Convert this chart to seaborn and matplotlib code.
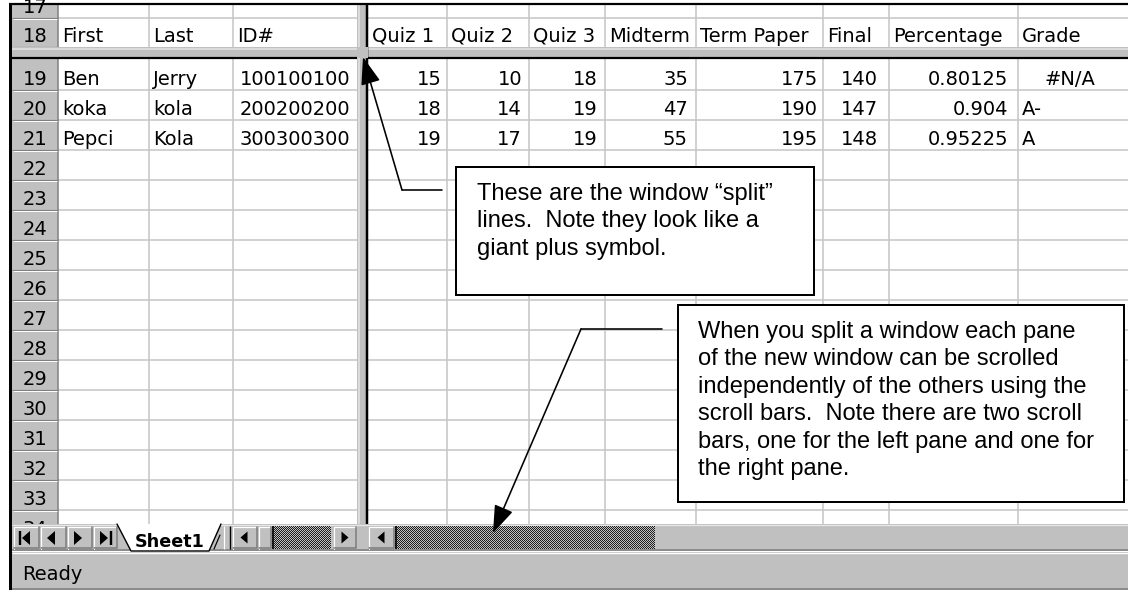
import numpy as np
import pandas as pd
import matplotlib
matplotlib.use("Agg")
import matplotlib.pyplot as plt
from matplotlib.patches import Rectangle, Polygon
from matplotlib.colors import ListedColormap
import seaborn as sns

######### Sheet contents #########
row_numbers = list(range(17, 35))
headers = ["First", "Last", "ID#", "Quiz 1", "Quiz 2", "Quiz 3",
           "Midterm", "Term Paper", "Final", "Percentage", "Grade"]
first_names = ["Ben", "koka", "Pepci"]
last_names = ["Jerry", "kola", "Kola"]
student_ids = [100100100, 200200200, 300300300]
quiz1 = [15, 18, 19]
quiz2 = [10, 14, 17]
quiz3 = [18, 19, 19]
midterm = [35, 47, 55]
term_paper = [175, 190, 195]
final = [140, 147, 148]
percentage = [0.80125, 0.904, 0.95225]
grade = ["#N/A", "A-", "A"]

note_split = ["These are the window \u201csplit\u201d",
              "lines.  Note they look like a",
              "giant plus symbol."]
note_scroll = ["When you split a window each pane",
               "of the new window can be scrolled",
               "independently of the others using the",
               "scroll bars.  Note there are two scroll",
               "bars, one for the left pane and one for",
               "the right pane."]
sheet_name = "Sheet1"
status_text = "Ready"

grades = pd.DataFrame({
    "First": first_names, "Last": last_names, "ID#": student_ids,
    "Quiz 1": quiz1, "Quiz 2": quiz2, "Quiz 3": quiz3, "Midterm": midterm,
    "Term Paper": term_paper, "Final": final, "Percentage": percentage,
    "Grade": grade,
})

######### Layout (pixels) #########
W, H = 1128, 590
PT = 0.72                      # points per pixel at dpi 100
GRAY, DARK, GRID = "#c0c0c0", "#808080", "#c8c8c8"
cols = [(58, 149), (149, 233), (233, 357),
        (368, 447), (447, 529), (529, 605), (605, 696),
        (696, 823), (823, 889), (889, 1018), (1018, 1140)]
right_pad = [0, 0, 7, 5, 7, 7, 8, 5, 11, 10, 0]
text_cols = ["First", "Last", "Grade"]
body_bottom = 524


def row_span(r):
    if r == 17:
        return -12, 18
    if r == 18:
        return 18, 47
    top = 60 + 30 * (r - 19)
    return top, top + 30


sns.set_theme(style="white")
plt.rcParams["font.family"] = ["DejaVu Sans"]

fig = plt.figure(figsize=(W / 100, H / 100), dpi=100)
ax = fig.add_axes([0, 0, 1, 1])
ax.set_facecolor("white")

cell_font = dict(fontsize=14, color="black", va="baseline", zorder=5)

# grid of cells
for r in row_numbers:
    top, bot = row_span(r)
    if r != 18:
        ax.hlines(bot, 58, 357, color=GRID, lw=1.6 * PT, zorder=1)
        ax.hlines(bot, 368, W, color=GRID, lw=1.6 * PT, zorder=1)
for x0, x1 in cols[1:]:
    if x0 not in (357, 368):
        ax.vlines(x0, 5, body_bottom, color=GRID, lw=1.6 * PT, zorder=1)

# row header column
ax.add_patch(Rectangle((12, 5), 46, body_bottom - 5, fc=GRAY, ec="none", zorder=2))
ax.vlines(58, 5, body_bottom, color=DARK, lw=1.5 * PT, zorder=3)
clip = Rectangle((12, 5), 46, body_bottom - 5, transform=ax.transData, fc="none", ec="none")
for r in row_numbers:
    top, bot = row_span(r)
    ax.hlines(bot, 12, 58, color=DARK, lw=1.2 * PT, zorder=3)
    ax.hlines(bot + 1.2, 13, 57, color="white", lw=1.0 * PT, zorder=3)
    t = ax.text(35, bot - 5, str(r), ha="center", **cell_font)
    t.set_clip_path(clip)

# split bars
ax.add_patch(Rectangle((12, 47), W - 12, 12, fc=GRAY, ec="none", zorder=4))
ax.hlines(48.5, 12, W, color="#e4e4e4", lw=1.5 * PT, zorder=4)
ax.hlines(58, 12, W, color="black", lw=2.2 * PT, zorder=4)
ax.add_patch(Rectangle((357, 5), 11, 546, fc=GRAY, ec="none", zorder=4))
ax.vlines(359, 5, 551, color="#e4e4e4", lw=1.5 * PT, zorder=4)
ax.vlines(366.5, 5, 551, color="black", lw=2.5 * PT, zorder=4)
ax.add_patch(Rectangle((357, 47), 11, 11, fc=GRAY, ec="none", zorder=4.5))

# header row
for (x0, x1), h in zip(cols, headers):
    ax.text(x0 + 4, 42, h, ha="left", **cell_font)

# data rows
for i, rec in grades.iterrows():
    top, bot = row_span(19 + i)
    for j, h in enumerate(headers):
        x0, x1 = cols[j]
        val = rec[h]
        if val == "#N/A":
            ax.text(1070, bot - 5, val, ha="center", **cell_font)
        elif h in text_cols:
            ax.text(x0 + 4, bot - 5, str(val), ha="left", **cell_font)
        else:
            ax.text(x1 - right_pad[j], bot - 5, str(val), ha="right", **cell_font)

# call-out boxes
note_font = dict(fontsize=17, family="Liberation Sans", color="black",
                 va="baseline", ha="left", zorder=8)
ax.add_patch(Rectangle((456, 167), 358, 128, fc="white", ec="black", lw=2 * PT, zorder=7))
for k, line in enumerate(note_split):
    ax.text(477, 200 + 27.5 * k, line, **note_font)
ax.add_patch(Rectangle((678, 305), 446, 197, fc="white", ec="black", lw=2 * PT, zorder=7))
for k, line in enumerate(note_scroll):
    ax.text(698, 338 + 27.4 * k, line, **note_font)

# sheet tab bar
ax.add_patch(Rectangle((12, body_bottom), W - 12, 27, fc=GRAY, ec="none", zorder=6))
ax.hlines(body_bottom + 0.5, 12, W, color="#e8e8e8", lw=1.2 * PT, zorder=6)
ax.hlines(550, 12, W, color=DARK, lw=1.6 * PT, zorder=6)


def button(x0, x1, y0=526, y1=549):
    ax.add_patch(Rectangle((x0, y0), x1 - x0, y1 - y0, fc=GRAY, ec="none", zorder=6.2))
    ax.plot([x0 + 1, x0 + 1, x1 - 1], [y1, y0 + 1, y0 + 1], color="white", lw=1.2 * PT, zorder=6.3)
    ax.plot([x0 + 1, x1 - 1, x1 - 1], [y1 - 1, y1 - 1, y0 + 1], color=DARK, lw=1.6 * PT, zorder=6.3)


def triangle(cx, cy, direction, half=7, width=8):
    if direction == "left":
        pts = [(cx + width / 2, cy - half), (cx + width / 2, cy + half), (cx - width / 2, cy)]
    else:
        pts = [(cx - width / 2, cy - half), (cx - width / 2, cy + half), (cx + width / 2, cy)]
    ax.add_patch(Polygon(pts, closed=True, fc="black", ec="none", zorder=6.5))


for x0, x1 in [(13, 40), (40, 67), (67, 93), (93, 118)]:
    button(x0, x1)
triangle(26, 538, "left")
ax.vlines(19.5, 531, 545, color="black", lw=2.4 * PT, zorder=6.5)
triangle(51, 538, "left")
triangle(78, 538, "right")
triangle(104, 538, "right")
ax.vlines(110.5, 531, 545, color="black", lw=2.4 * PT, zorder=6.5)

# active sheet tab
tab = [(117, 524), (131, 551), (209, 551), (221, 524)]
ax.add_patch(Polygon(tab, closed=True, fc="white", ec="none", zorder=6.4))
ax.plot([117, 131, 209, 221], [524, 551, 551, 524], color="black", lw=1.4 * PT, zorder=6.5)
ax.text(170, 547, sheet_name, ha="center", va="baseline", fontsize=12.7,
        fontweight="bold", color="black", zorder=6.6)
ax.plot([214, 220], [549, 535], color="black", lw=1.2 * PT, zorder=6.5)
ax.add_patch(Rectangle((223, 526), 7, 23, fc=GRAY, ec="none", zorder=6.4))
ax.vlines(224, 526, 549, color="white", lw=1.2 * PT, zorder=6.5)
ax.vlines(229.5, 526, 549, color="black", lw=1.4 * PT, zorder=6.5)

# left pane scroll bar
button(232, 258)
triangle(244, 537.5, "left", half=6, width=7)
button(258, 272)
button(333, 357)
triangle(345, 537.5, "right", half=6, width=7)

# right pane scroll bar
button(368, 395)
triangle(381, 537.5, "left", half=6, width=7)

dither = ListedColormap([GRAY, "#1e1e1e"])
for x0, x1 in [(272, 331), (395, 655)]:
    w, h = x1 - x0, 23
    pattern = np.add.outer(np.arange(h), np.arange(w)) % 2
    ax.imshow(pattern, cmap=dither, extent=(x0, x1, 526 + h, 526), interpolation="nearest",
              aspect="auto", zorder=6.3)
    ax.vlines(x0 + 1, 526, 549, color="black", lw=1.6 * PT, zorder=6.4)

# status bar
ax.add_patch(Rectangle((12, 552), W - 12, 38, fc=GRAY, ec="none", zorder=6))
ax.hlines(552.5, 12, W, color="white", lw=1.4 * PT, zorder=6.1)
ax.hlines(589, 12, W, color=DARK, lw=1.6 * PT, zorder=6.1)
ax.text(22, 580, status_text, ha="left", va="baseline", fontsize=14, color="black", zorder=6.2)

# pointer arrows
arrow = dict(arrowstyle="-|>,head_length=0.9,head_width=0.32", color="black",
             lw=1.6 * PT, shrinkA=0, shrinkB=0, mutation_scale=19)
ax.plot([442, 402], [190, 190], color="black", lw=1.6 * PT, zorder=9)
ax.annotate("", xy=(363, 57), xytext=(402, 190), arrowprops=arrow, zorder=9)
ax.plot([662, 581], [329, 329], color="black", lw=1.6 * PT, zorder=9)
ax.annotate("", xy=(493, 533), xytext=(581, 329), arrowprops=arrow, zorder=9)

# outer frame
ax.vlines(10, 3, H, color="black", lw=3 * PT, zorder=10)
ax.hlines(4, 9, W, color="black", lw=2.2 * PT, zorder=10)

ax.set_xlim(0, W)
ax.set_ylim(H, 0)
ax.axis("off")
fig.savefig("out.png", dpi=100)
